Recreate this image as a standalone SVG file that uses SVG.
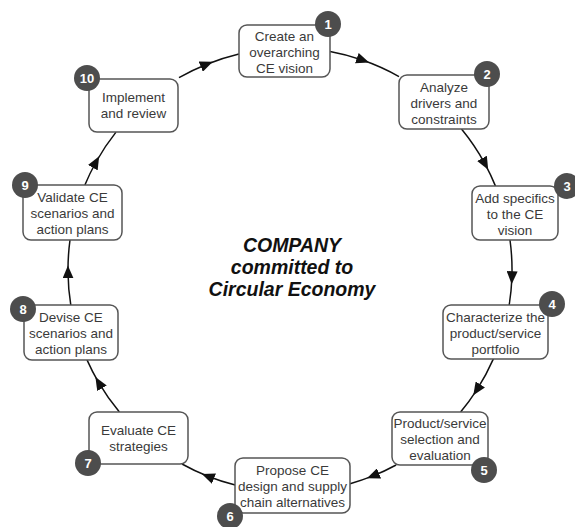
<svg xmlns="http://www.w3.org/2000/svg" width="575" height="527" viewBox="0 0 575 527">
<style>
.box{fill:#fff;stroke:#555;stroke-width:1.5}
.lbl{font-family:"Liberation Sans",Arial,sans-serif;font-size:13.5px;fill:#3a3a3a;text-anchor:middle}
.badge{fill:#4d4d4d}
.num{font-family:"Liberation Sans",Arial,sans-serif;font-size:13px;font-weight:bold;fill:#fff;text-anchor:middle}
.conn{fill:none;stroke:#111;stroke-width:1.5;marker-mid:url(#ah)}
.title{font-family:"Liberation Sans",Arial,sans-serif;font-size:19.5px;font-weight:bold;font-style:italic;fill:#111;text-anchor:middle}
</style>
<defs>
<marker id="ah" markerWidth="13" markerHeight="11" refX="6.5" refY="5.5" orient="auto" markerUnits="userSpaceOnUse">
<path d="M0,0 L13,5.5 L0,11 z" fill="#111"/>
</marker>
</defs>
<rect width="575" height="527" fill="#fff"/>
<g id="connectors">
<path class="conn" d="M179,77.7 A222,222 0 0 1 206.8,64.2 A222,222 0 0 1 238.9,53.9"/>
<path class="conn" d="M330.1,51.6 A222,222 0 0 1 363,60.3 A222,222 0 0 1 399,76.6"/>
<path class="conn" d="M461.5,129.1 A222,222 0 0 1 485.1,164.1 A222,222 0 0 1 495.5,186.1"/>
<path class="conn" d="M510,240 A222,222 0 0 1 511.9,277.7 A222,222 0 0 1 509.2,305"/>
<path class="conn" d="M493.4,358.9 A222,222 0 0 1 476.8,389.9 A222,222 0 0 1 460.6,412.1"/>
<path class="conn" d="M396.1,465 A222,222 0 0 1 373,475.9 A222,222 0 0 1 350.1,483.7"/>
<path class="conn" d="M235.2,485.1 A222,222 0 0 1 207.9,476.3 A222,222 0 0 1 182,464"/>
<path class="conn" d="M119.4,412.1 A222,222 0 0 1 98.7,382.7 A222,222 0 0 1 87,359.9"/>
<path class="conn" d="M70.8,305.1 A222,222 0 0 1 68,271.9 A222,222 0 0 1 70,240"/>
<path class="conn" d="M84.9,185 A222,222 0 0 1 96,162 A222,222 0 0 1 116,132.1"/>
</g>
<g id="center">
<text class="title" x="292" y="252">COMPANY</text>
<text class="title" x="292" y="274">committed to</text>
<text class="title" x="292" y="296">Circular Economy</text>
</g>
<g id="node1">
<rect class="box" x="239" y="25" width="91" height="52" rx="8"/>
<text class="lbl" x="284.5" y="41">Create an</text>
<text class="lbl" x="284.5" y="57">overarching</text>
<text class="lbl" x="284.5" y="73">CE vision</text>
<circle class="badge" cx="328" cy="24" r="13"/>
<text class="num" x="328" y="29">1</text>
</g>
<g id="node2">
<rect class="box" x="399" y="75" width="90" height="54" rx="8"/>
<text class="lbl" x="444" y="92">Analyze</text>
<text class="lbl" x="444" y="108">drivers and</text>
<text class="lbl" x="444" y="124">constraints</text>
<circle class="badge" cx="487" cy="74" r="13"/>
<text class="num" x="487" y="79">2</text>
</g>
<g id="node3">
<rect class="box" x="472" y="186" width="86" height="54" rx="8"/>
<text class="lbl" x="515" y="203">Add specifics</text>
<text class="lbl" x="515" y="219">to the CE</text>
<text class="lbl" x="515" y="235">vision</text>
<circle class="badge" cx="567" cy="186" r="13"/>
<text class="num" x="567" y="191">3</text>
</g>
<g id="node4">
<rect class="box" x="443" y="305" width="105" height="54" rx="8"/>
<text class="lbl" x="495.5" y="322">Characterize the</text>
<text class="lbl" x="495.5" y="338">product/service</text>
<text class="lbl" x="495.5" y="354">portfolio</text>
<circle class="badge" cx="552" cy="304" r="13"/>
<text class="num" x="552" y="309">4</text>
</g>
<g id="node5">
<rect class="box" x="392" y="412" width="96" height="53" rx="8"/>
<text class="lbl" x="440" y="428">Product/service</text>
<text class="lbl" x="440" y="444">selection and</text>
<text class="lbl" x="440" y="460">evaluation</text>
<circle class="badge" cx="484" cy="470" r="13"/>
<text class="num" x="484" y="475">5</text>
</g>
<g id="node6">
<rect class="box" x="235" y="458" width="115" height="55" rx="8"/>
<text class="lbl" x="292.5" y="475">Propose CE</text>
<text class="lbl" x="292.5" y="491">design and supply</text>
<text class="lbl" x="292.5" y="507">chain alternatives</text>
<circle class="badge" cx="230" cy="516" r="13"/>
<text class="num" x="230" y="521">6</text>
</g>
<g id="node7">
<rect class="box" x="89" y="412" width="99" height="52" rx="8"/>
<text class="lbl" x="138.5" y="435">Evaluate CE</text>
<text class="lbl" x="138.5" y="451">strategies</text>
<circle class="badge" cx="88" cy="463" r="13"/>
<text class="num" x="88" y="468">7</text>
</g>
<g id="node8">
<rect class="box" x="24" y="305" width="94" height="55" rx="8"/>
<text class="lbl" x="71" y="322">Devise CE</text>
<text class="lbl" x="71" y="338">scenarios and</text>
<text class="lbl" x="71" y="354">action plans</text>
<circle class="badge" cx="23" cy="309" r="13"/>
<text class="num" x="23" y="314">8</text>
</g>
<g id="node9">
<rect class="box" x="23" y="185" width="99" height="55" rx="8"/>
<text class="lbl" x="72.5" y="202">Validate CE</text>
<text class="lbl" x="72.5" y="218">scenarios and</text>
<text class="lbl" x="72.5" y="234">action plans</text>
<circle class="badge" cx="25" cy="185" r="13"/>
<text class="num" x="25" y="190">9</text>
</g>
<g id="node10">
<rect class="box" x="89" y="79" width="89" height="53" rx="8"/>
<text class="lbl" x="133.5" y="102">Implement</text>
<text class="lbl" x="133.5" y="118">and review</text>
<circle class="badge" cx="87" cy="78" r="13"/>
<text class="num" x="87" y="83">10</text>
</g>
</svg>
